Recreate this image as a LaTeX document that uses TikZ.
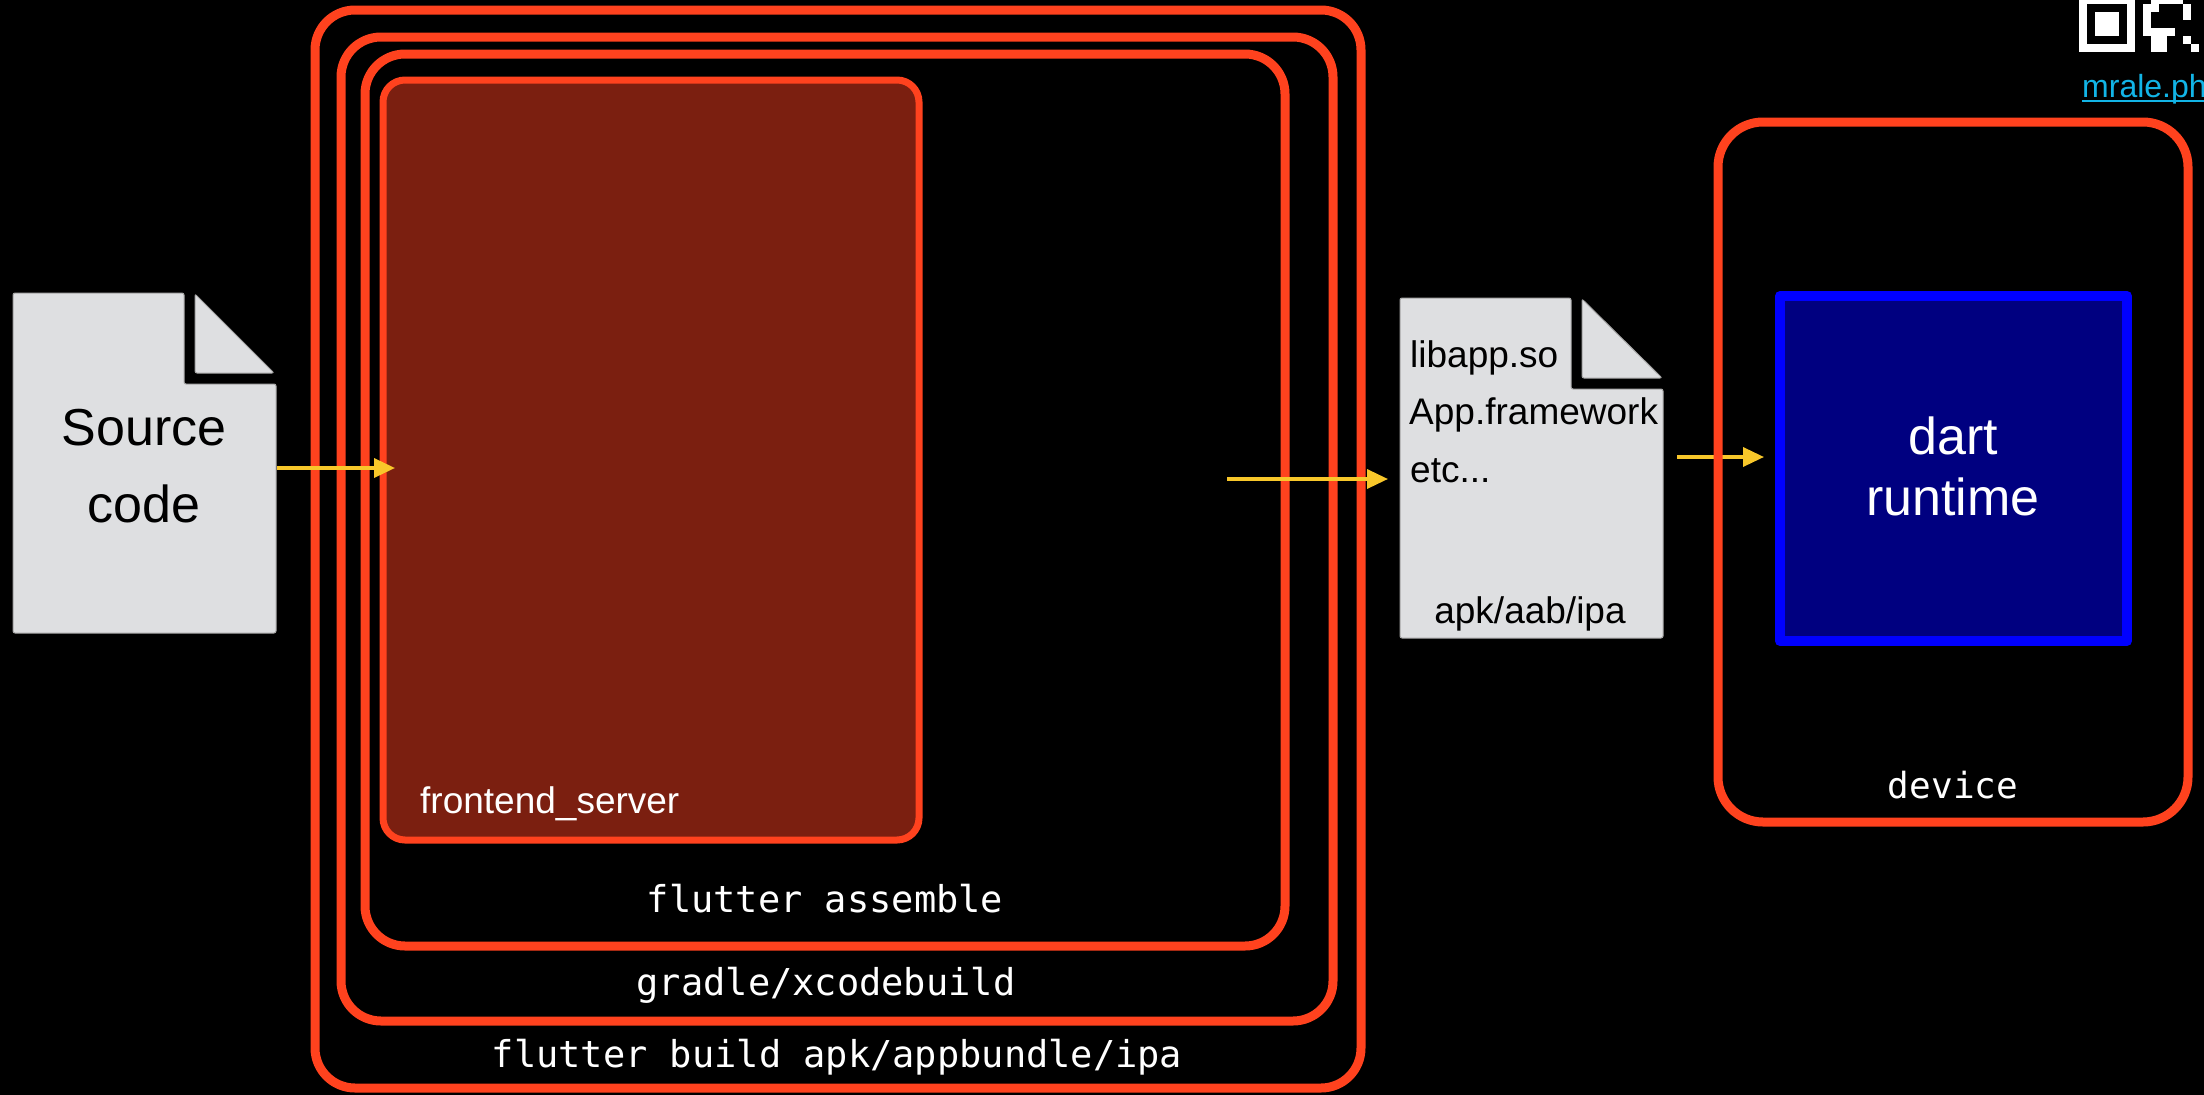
\documentclass[tikz,border=0pt]{standalone}
\usepackage{fontspec}
\setmainfont{Liberation Sans}
\setmonofont{DejaVu Sans Mono}
\usetikzlibrary{arrows.meta}
\definecolor{chalk}{HTML}{FF421E}
\definecolor{fsfill}{HTML}{7B1F10}
\definecolor{paper}{HTML}{DEDFE1}
\definecolor{arrowy}{HTML}{F8C72A}
\definecolor{rtnavy}{HTML}{000080}
\definecolor{rtblue}{HTML}{0000FF}
\definecolor{linkcol}{HTML}{12B4E6}
\begin{document}
\begin{tikzpicture}[x=1pt,y=-1pt,
  chalkbox/.style={draw=chalk, line width=9pt, line join=round, rounded corners=#1},
  chalkbox/.default=40pt,
  fsbox/.style={draw=chalk, fill=fsfill, line width=7pt, rounded corners=22pt},
  rtbox/.style={draw=rtblue, fill=rtnavy, line width=10pt, line join=round},
  paperfile/.style={fill=paper, draw=gray!70, line width=1pt, rounded corners=2pt},
  flowarrow/.style={draw=arrowy, line width=3.5pt, -{Triangle[length=21pt,width=19pt]}},
  txt/.style={inner sep=0pt, anchor=base},
  txtw/.style={inner sep=0pt, anchor=base west},
  bigsans/.style={font=\fontsize{52}{60}\selectfont},
  midsans/.style={font=\fontsize{37}{44}\selectfont},
  monolab/.style={font=\ttfamily\fontsize{37}{44}\selectfont, text=white},
  qrmod/.style={fill=white}
]
\useasboundingbox (0,0) rectangle (2204,1095);
\fill[black] (0,0) rectangle (2204,1095);

% QR code fragment
\fill[qrmod] (2079,-4) rectangle (2135,52);
\fill[black] (2087,4) rectangle (2127,44);
\fill[qrmod] (2095,12) rectangle (2119,36);
\foreach \c/\r in {9/0,10/0,11/0,12/0, 8/1,9/1,13/1, 8/2,13/2, 8/3, 8/4,9/4,10/4,11/4, 9/5,10/5,13/5, 9/6,10/6,14/6}
  \fill[qrmod] ({2079+8*\c},{-4+8*\r}) rectangle ++(8,8);

% link
\node[txtw, font=\fontsize{32}{38}\selectfont, text=linkcol] (mr) at (2082,97) {mrale.ph};
\draw[linkcol, line width=2pt] ([yshift=-4pt]mr.base west) -- ([yshift=-4pt,xshift=10pt]mr.base east);

% nested build boxes
\coordinate (b1tl) at (315,10);   \coordinate (b1br) at (1361,1088);
\coordinate (b2tl) at (341,37);   \coordinate (b2br) at (1333,1021);
\coordinate (b3tl) at (365,54);   \coordinate (b3br) at (1285,946);
\coordinate (fstl) at (383,80);   \coordinate (fsbr) at (919,840);
\draw[chalkbox] (b1tl) rectangle (b1br);
\draw[chalkbox] (b2tl) rectangle (b2br);
\draw[chalkbox] (b3tl) rectangle (b3br);
\draw[fsbox] (fstl) rectangle (fsbr);

\node[txtw, midsans, text=white] (fs) at (420,813) {frontend\_server};
\node[txt, monolab] (asm) at (825,912) {flutter assemble};
\node[txt, monolab] (grd) at (826,995) {gradle/xcodebuild};
\node[txt, monolab] (bld) at (837,1067) {flutter build apk/appbundle/ipa};

% source file
\filldraw[paperfile] (13,293) -- (184,293) -- (184,384) -- (276,384) -- (276,633) -- (13,633) -- cycle;
\filldraw[paperfile] (195,294) -- (274,373) -- (195,373) -- cycle;
\node[txt, bigsans, text=black] (srcA) at (144,445) {Source};
\node[txt, bigsans, text=black] (srcB) at (144,522) {code};

% output file
\filldraw[paperfile] (1400,298) -- (1571,298) -- (1571,389) -- (1663,389) -- (1663,638) -- (1400,638) -- cycle;
\filldraw[paperfile] (1582,299) -- (1662,378) -- (1582,378) -- cycle;
\node[txtw, midsans, text=black] (lib) at (1410,367) {libapp.so};
\node[txtw, midsans, text=black] (appf) at (1409,424) {App.framework};
\node[txtw, midsans, text=black] (etc) at (1410,482) {etc...};
\node[txt, midsans, text=black] (apk) at (1530,623) {apk/aab/ipa};

% arrows
\coordinate (a1s) at (277,468); \coordinate (a1e) at (395,468);
\coordinate (a2s) at (1227,479); \coordinate (a2e) at (1388,479);
\coordinate (a3s) at (1677,457); \coordinate (a3e) at (1764,457);
\draw[flowarrow] (a1s) -- (a1e);
\draw[flowarrow] (a2s) -- (a2e);
\draw[flowarrow] (a3s) -- (a3e);

% device
\coordinate (dvtl) at (1718,122); \coordinate (dvbr) at (2188,822);
\draw[chalkbox=45pt] (dvtl) rectangle (dvbr);
\coordinate (rttl) at (1780,296); \coordinate (rtbr) at (2127,641);
\draw[rtbox] (rttl) rectangle (rtbr);
\node[txt, bigsans, text=white] (dart) at (1953,454) {dart};
\node[txt, bigsans, text=white] (rt) at (1953,515) {runtime};
\node[txt, font=\ttfamily\fontsize{36}{42}\selectfont, text=white] (dev) at (1953,798) {device};
\end{tikzpicture}
\end{document}
